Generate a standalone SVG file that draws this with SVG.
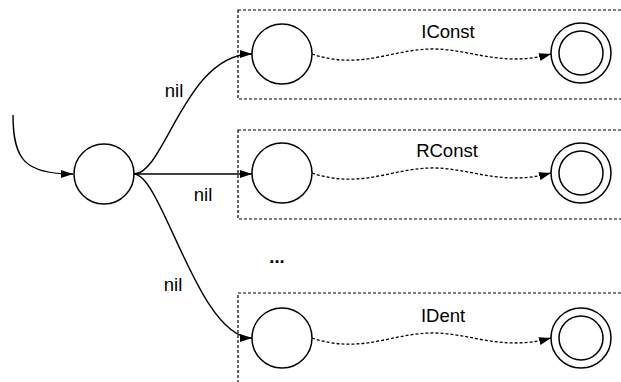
<svg xmlns="http://www.w3.org/2000/svg" width="621" height="382" viewBox="0 0 621 382">
<defs>
<marker id="ah" markerWidth="12" markerHeight="8" refX="12" refY="4" orient="auto" markerUnits="userSpaceOnUse">
<path d="M0,0 L12,4 L0,8 Z" fill="#000"/>
</marker>
<style>
.box{fill:none;stroke:#000;stroke-width:1.2;stroke-dasharray:3,2}
.st{fill:#fff;stroke:#000;stroke-width:1.5}
.e{fill:none;stroke:#000;stroke-width:1.4}
.w{fill:none;stroke:#000;stroke-width:1.3;stroke-dasharray:3,2}
text{font-family:"Liberation Sans",Arial,sans-serif;font-size:18.5px;fill:#000}
</style>
</defs>
<rect width="621" height="382" fill="#fff"/>
<g id="box-iconst"><rect class="box" x="238" y="10" width="400" height="89"/></g>
<g id="box-rconst"><rect class="box" x="238" y="130" width="400" height="89"/></g>
<g id="box-ident"><rect class="box" x="238" y="293" width="400" height="120"/></g>
<g id="connectors">
<path class="e" d="M13,115 C13,160 25,174 73,174" marker-end="url(#ah)"/>
<path class="e" d="M134,174 C165,174 185,54 252,54" marker-end="url(#ah)"/>
<path class="e" d="M134,174 L252,174" marker-end="url(#ah)"/>
<path class="e" d="M134,174 C162,174 198,338 252,338" marker-end="url(#ah)"/>
<path class="w" d="M312,54 C360,70 390,50 430,49 C470,48 500,68 551,54" marker-end="url(#ah)"/>
<path class="w" d="M312,173 C360,189 390,169 430,168 C470,167 500,187 551,173" marker-end="url(#ah)"/>
<path class="w" d="M312,338 C360,354 390,334 430,333 C470,332 500,352 551,338" marker-end="url(#ah)"/>
</g>
<g id="start"><circle class="st" cx="104" cy="174" r="30"/></g>
<g id="iconst-start"><circle class="st" cx="282" cy="54" r="30"/></g>
<g id="iconst-end"><circle class="st" cx="581" cy="53" r="30"/><circle class="st" cx="581" cy="53" r="22"/></g>
<g id="rconst-start"><circle class="st" cx="282" cy="173" r="30"/></g>
<g id="rconst-end"><circle class="st" cx="581" cy="173" r="30"/><circle class="st" cx="581" cy="173" r="22"/></g>
<g id="ident-start"><circle class="st" cx="282" cy="338" r="30"/></g>
<g id="ident-end"><circle class="st" cx="581" cy="338" r="30"/><circle class="st" cx="581" cy="338" r="22"/></g>
<g id="labels">
<text x="448" y="38" text-anchor="middle">IConst</text>
<text x="447" y="157" text-anchor="middle">RConst</text>
<text x="443" y="322" text-anchor="middle">IDent</text>
<text x="174" y="97" text-anchor="middle">nil</text>
<text x="203" y="201" text-anchor="middle">nil</text>
<text x="173" y="291" text-anchor="middle">nil</text>
<text x="277" y="263" text-anchor="middle" font-weight="bold">...</text>
</g>
</svg>
